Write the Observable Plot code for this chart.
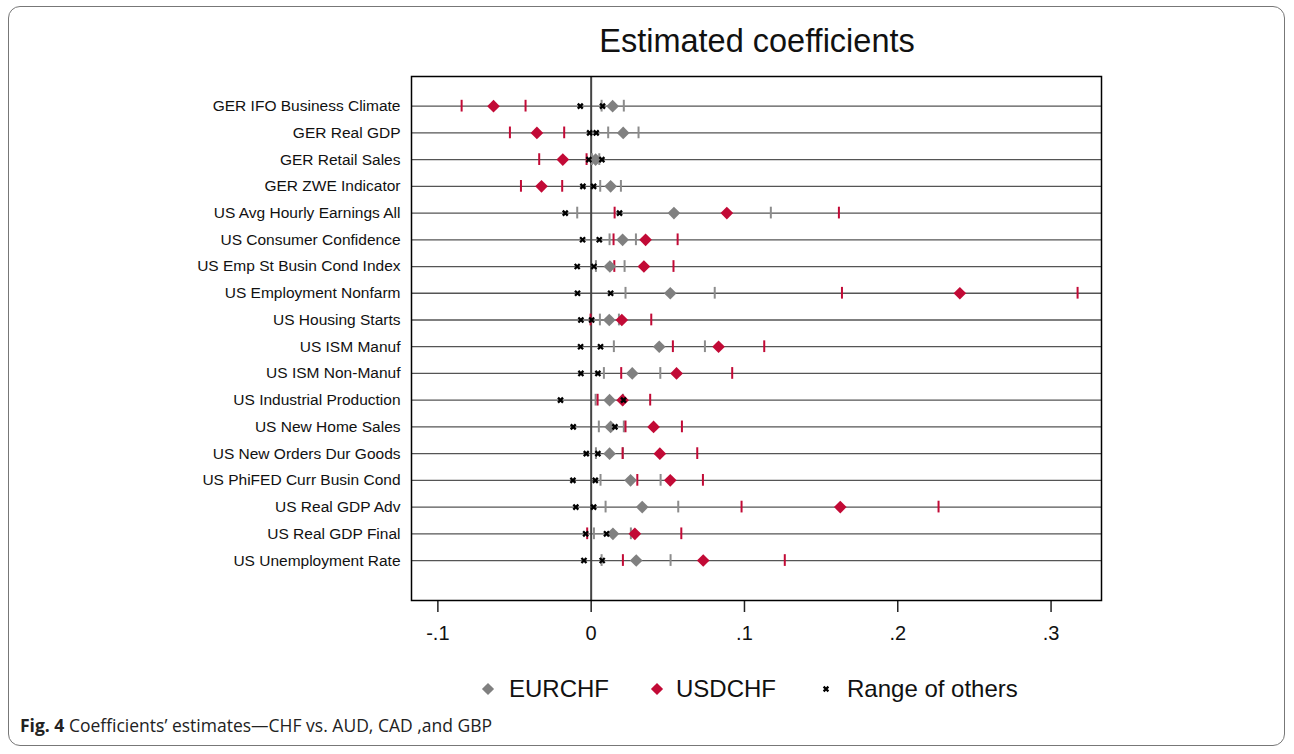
<!DOCTYPE html>
<html>
<head>
<meta charset="utf-8">
<script src="https://cdn.jsdelivr.net/npm/d3@7"></script>
<script src="https://cdn.jsdelivr.net/npm/@observablehq/plot@0.6"></script>
<style>
  html, body { margin: 0; padding: 0; background: #fff; }
  body { width: 1294px; height: 754px; position: relative; overflow: hidden; font-family: "Liberation Sans", Arial, Helvetica, sans-serif; }
  #card { position: absolute; left: 8px; top: 6px; width: 1277px; height: 740px; border: 1px solid #777; border-radius: 12px; box-sizing: border-box; }
  #title { position: absolute; left: 411px; width: 692px; top: 21px; text-align: center; font-size: 32.5px; line-height: 40px; color: #111; }
  #chart { position: absolute; left: 0; top: 60px; }
  #legend { position: absolute; top: 672px; left: 0; width: 1294px; height: 34px; font-size: 24px; color: #111; }
  #legend .item { position: absolute; top: 0; display: flex; align-items: center; height: 34px; }
  #legend svg { position: absolute; }
  #caption { position: absolute; left: 20px; top: 713px; font-family: "Open Sans", "Noto Sans", sans-serif; font-size: 17.5px; letter-spacing: 0; color: #222; white-space: nowrap; }
</style>
</head>
<body>
<div id="card"></div>
<div id="title">Estimated coefficients</div>
<div id="chart"></div>
<div id="legend"></div>
<div id="caption"><b>Fig. 4</b> Coefficients’ estimates—CHF vs. AUD, CAD ,and GBP</div>
<script>
// ---- data ----
const categories = [
  "GER IFO Business Climate", "GER Real GDP", "GER Retail Sales", "GER ZWE Indicator",
  "US Avg Hourly Earnings All", "US Consumer Confidence", "US Emp St Busin Cond Index",
  "US Employment Nonfarm", "US Housing Starts", "US ISM Manuf", "US ISM Non-Manuf",
  "US Industrial Production", "US New Home Sales", "US New Orders Dur Goods",
  "US PhiFED Curr Busin Cond", "US Real GDP Adv", "US Real GDP Final", "US Unemployment Rate"
];
const eurchf   = [0.0140, 0.0209, 0.0029, 0.0127, 0.0540, 0.0205, 0.0122, 0.0516, 0.0118, 0.0444, 0.0268, 0.0120, 0.0127, 0.0120, 0.0257, 0.0333, 0.0142, 0.0294];
const eurchfLo = [0.0068, 0.0111, 0.0005, 0.0059, -0.0091, 0.0120, 0.0031, 0.0224, 0.0057, 0.0148, 0.0083, 0.0029, 0.0050, 0.0031, 0.0061, 0.0094, 0.0018, 0.0068];
const eurchfHi = [0.0213, 0.0309, 0.0053, 0.0194, 0.1172, 0.0292, 0.0218, 0.0806, 0.0181, 0.0742, 0.0451, 0.0208, 0.0213, 0.0207, 0.0453, 0.0568, 0.0259, 0.0518];
const usdchf   = [-0.0637, -0.0354, -0.0185, -0.0324, 0.0885, 0.0355, 0.0344, 0.2405, 0.0200, 0.0831, 0.0557, 0.0205, 0.0407, 0.0448, 0.0516, 0.1625, 0.0285, 0.0731];
const usdchfLo = [-0.0845, -0.0530, -0.0339, -0.0458, 0.0153, 0.0146, 0.0151, 0.1636, -0.0004, 0.0533, 0.0196, 0.0042, 0.0224, 0.0205, 0.0301, 0.0981, -0.0026, 0.0207];
const usdchfHi = [-0.0428, -0.0176, -0.0030, -0.0189, 0.1616, 0.0564, 0.0537, 0.3173, 0.0392, 0.1129, 0.0920, 0.0385, 0.0592, 0.0692, 0.0729, 0.2266, 0.0588, 0.1263];
const othersMin = [-0.0071, -0.0010, -0.0015, -0.0054, -0.0169, -0.0056, -0.0091, -0.0089, -0.0067, -0.0069, -0.0067, -0.0200, -0.0117, -0.0032, -0.0119, -0.0100, -0.0036, -0.0047];
const othersMax = [0.0074, 0.0033, 0.0070, 0.0016, 0.0185, 0.0053, 0.0018, 0.0127, 0.0003, 0.0061, 0.0044, 0.0211, 0.0155, 0.0044, 0.0027, 0.0016, 0.0100, 0.0072];
const xTicks = [-0.1, 0, 0.1, 0.2, 0.3];
const xTickLabels = ["-.1", "0", ".1", ".2", ".3"];
const seriesNames = ["EURCHF", "USDCHF", "Range of others"];

const GRAY = "#808080", GRAYTICK = "#8c8c8c", RED = "#c20a36";

const rows = categories.map((c, i) => ({
  cat: c, eur: eurchf[i], eurLo: eurchfLo[i], eurHi: eurchfHi[i],
  usd: usdchf[i], usdLo: usdchfLo[i], usdHi: usdchfHi[i],
  oMin: othersMin[i], oMax: othersMax[i]
}));
const others = rows.flatMap(r => [{cat: r.cat, v: r.oMin}, {cat: r.cat, v: r.oMax}]);

const chart = Plot.plot({
  width: 1294,
  height: 590,
  marginLeft: 411,
  marginRight: 193,
  marginTop: 16,
  marginBottom: 50,
  style: { fontFamily: '"Liberation Sans", Arial, Helvetica, sans-serif', fontSize: "15.5px", color: "#111", background: "transparent" },
  x: {
    domain: [-0.1172, 0.3329],
    ticks: xTicks,
    tickFormat: d => xTickLabels[xTicks.findIndex(t => Math.abs(t - d) < 1e-9)],
    tickSize: 12,
    tickPadding: 13,
    label: null
  },
  y: {
    type: "band",
    domain: categories,
    padding: 0,
    round: false,
    insetTop: 16.3,
    insetBottom: 26.6,
    tickSize: 0,
    tickPadding: 11,
    label: null
  },
  marks: [
    Plot.ruleY(categories, { stroke: "#555", strokeWidth: 1.3 }),
    Plot.ruleX([0], { stroke: "#444", strokeWidth: 2 }),
    Plot.tickX(rows, { x: "eurLo", y: "cat", stroke: GRAYTICK, strokeWidth: 2, insetTop: 7.5, insetBottom: 7.5 }),
    Plot.tickX(rows, { x: "eurHi", y: "cat", stroke: GRAYTICK, strokeWidth: 2, insetTop: 7.5, insetBottom: 7.5 }),
    Plot.tickX(rows, { x: "usdLo", y: "cat", stroke: RED, strokeWidth: 2, insetTop: 7.5, insetBottom: 7.5 }),
    Plot.tickX(rows, { x: "usdHi", y: "cat", stroke: RED, strokeWidth: 2, insetTop: 7.5, insetBottom: 7.5 }),
    Plot.dot(rows, { x: "eur", y: "cat", symbol: "diamond2", r: 5.7, fill: GRAY, stroke: "none" }),
    Plot.dot(rows, { x: "usd", y: "cat", symbol: "diamond2", r: 5.7, fill: RED, stroke: "none" }),
    Plot.dot(others, { x: "v", y: "cat", symbol: "times", r: 2.4, stroke: "#000", strokeWidth: 2.3 }),
    Plot.frame({ stroke: "#000", strokeWidth: 1.5 })
  ]
});
document.getElementById("chart").appendChild(chart);

// axis font sizes
d3.select(chart).selectAll('g[aria-label^="x-axis"] text').attr("font-size", 20).attr("fill", "#111");
d3.select(chart).selectAll('g[aria-label^="y-axis"] text').attr("font-size", 15.5).attr("fill", "#111");
d3.select(chart).selectAll('g[aria-label^="x-axis"] line, g[aria-label^="x-axis"] path').attr("stroke", "#222").attr("stroke-width", 1.5);

// legend
const legendSpec = [
  { name: seriesNames[0], cx: 488, tx: 509, kind: "diamond", color: GRAY },
  { name: seriesNames[1], cx: 657, tx: 676, kind: "diamond", color: RED },
  { name: seriesNames[2], cx: 826, tx: 847, kind: "times", color: "#000" }
];
const legend = d3.select("#legend");
for (const s of legendSpec) {
  const svg = legend.append("svg").attr("width", 20).attr("height", 20)
    .style("left", (s.cx - 10) + "px").style("top", "7px");
  if (s.kind === "diamond") {
    svg.append("path").attr("d", d3.symbol(d3.symbolDiamond2, Math.PI * 5.5 * 5.5)()).attr("transform", "translate(10,10)").attr("fill", s.color);
  } else {
    svg.append("path").attr("d", d3.symbol(d3.symbolTimes, Math.PI * 2.3 * 2.3)()).attr("transform", "translate(10,10)").attr("fill", "none").attr("stroke", s.color).attr("stroke-width", 2.2);
  }
  legend.append("div").attr("class", "item").style("left", s.tx + "px").text(s.name);
}
</script>
</body>
</html>
